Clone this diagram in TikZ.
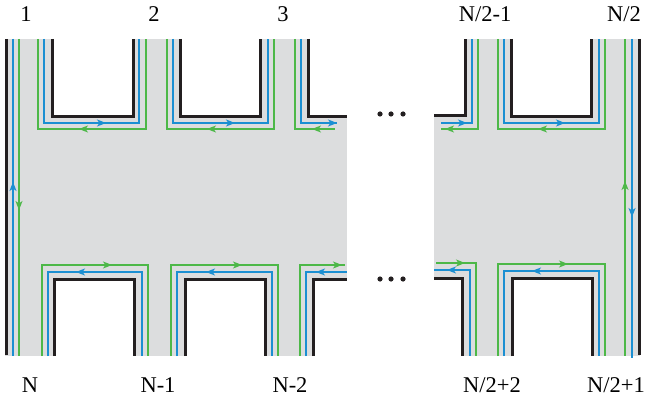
\documentclass[tikz,border=0pt]{standalone}
\usepackage{fontspec}
\setmainfont{Liberation Serif}
\usetikzlibrary{arrows.meta}
\definecolor{hbgray}{HTML}{DCDDDE}
\definecolor{hbblue}{HTML}{1B8FD2}
\definecolor{hbgreen}{HTML}{4DB848}
\definecolor{hbblack}{HTML}{231F20}
\begin{document}
\begin{tikzpicture}[x=1pt,y=-1pt,
  wall/.style={draw=hbblack,line width=3pt},
  bch/.style={draw=hbblue,line width=1.2pt},
  gch/.style={draw=hbgreen,line width=1.2pt},
  tipb/.style={bch,-{Stealth[length=9pt,width=7pt,inset=2.5pt]}},
  tipg/.style={gch,-{Stealth[length=9pt,width=7pt,inset=2.5pt]}},
  lbl/.style={font=\fontsize{22.5}{26}\selectfont,anchor=base,inner sep=0pt},
  dotc/.style={fill=hbblack}]
\useasboundingbox (0,0) rectangle (647,403);
% gray regions
\fill[hbgray] (5,39) rectangle (347,356);
\fill[hbgray] (434,39) rectangle (640,356);
% white blocks
\fill[white] (52,38) rectangle (133,117);
\fill[white] (180,38) rectangle (260,117);
\fill[white] (308,38) rectangle (348,117);
\fill[white] (433,38) rectangle (465,116);
\fill[white] (511,38) rectangle (591,117);
\fill[white] (54,279) rectangle (134,357);
\fill[white] (185,279) rectangle (265,357);
\fill[white] (313,279) rectangle (348,357);
\fill[white] (433,278) rectangle (462,357);
\fill[white] (512,278) rectangle (592,357);
% left edge channels
\draw[bch] (13,39) -- (13,356);
\draw[gch] (19,39) -- (19,356);
\draw[tipb] (13,191) -- (13,182);
\draw[tipg] (19,201) -- (19,210);
% right edge channels
\draw[gch] (625,39) -- (625,356);
\draw[bch] (632,39) -- (632,358);
\draw[tipg] (625,190) -- (625,181);
\draw[tipb] (632,208) -- (632,217);
% top block 1
\draw[bch] (44,39) -- (44,123) -- (139,123) -- (139,39);
\draw[gch] (38,39) -- (38,129) -- (146,129) -- (146,39);
\draw[tipb] (97,123) -- (106,123);
\draw[tipg] (88,129) -- (79,129);
% top block 2
\draw[bch] (173,39) -- (173,123) -- (268,123) -- (268,39);
\draw[gch] (167,39) -- (167,129) -- (274,129) -- (274,39);
\draw[tipb] (226,123) -- (235,123);
\draw[tipg] (216,129) -- (207,129);
% top block 3 (partial)
\draw[bch] (301,39) -- (301,123) -- (337,123);
\draw[gch] (295,39) -- (295,129) -- (335,129);
\draw[tipb] (328,123) -- (337,123);
\draw[tipg] (321,129) -- (312,129);
% right top partial
\draw[bch] (441,123) -- (472,123) -- (472,39);
\draw[gch] (441,129) -- (478,129) -- (478,39);
\draw[tipb] (458,123) -- (467,123);
\draw[tipg] (454,129) -- (445,129);
% top block N/2-1
\draw[bch] (504,39) -- (504,123) -- (599,123) -- (599,39);
\draw[gch] (498,39) -- (498,129) -- (605,129) -- (605,39);
\draw[tipb] (556,123) -- (565,123);
\draw[tipg] (547,129) -- (538,129);
% bottom block N
\draw[bch] (48,356) -- (48,272) -- (142,272) -- (142,356);
\draw[gch] (42,356) -- (42,265) -- (148,265) -- (148,356);
\draw[tipg] (103,265) -- (112,265);
\draw[tipb] (85,272) -- (76,272);
% bottom block N-1
\draw[bch] (177,356) -- (177,272) -- (272,272) -- (272,356);
\draw[gch] (171,356) -- (171,265) -- (278,265) -- (278,356);
\draw[tipg] (233,265) -- (242,265);
\draw[tipb] (215,272) -- (206,272);
% bottom block N-2 (partial)
\draw[bch] (306,356) -- (306,272) -- (347,272);
\draw[gch] (300,356) -- (300,265) -- (345,265);
\draw[tipg] (333,265) -- (342,265);
\draw[tipb] (325,272) -- (316,272);
% right bottom partial
\draw[bch] (434,270) -- (470,270) -- (470,356);
\draw[gch] (436,263) -- (476,263) -- (476,356);
\draw[tipg] (456,263) -- (465,263);
\draw[tipb] (456,270) -- (447,270);
% bottom block N/2+1
\draw[bch] (504,356) -- (504,271) -- (599,271) -- (599,356);
\draw[gch] (498,356) -- (498,264) -- (605,264) -- (605,356);
\draw[tipg] (559,264) -- (568,264);
\draw[tipb] (541,271) -- (532,271);
% black walls
\draw[wall] (6,39) -- (6,355);
\draw[wall] (639,39) -- (639,355);
\draw[wall] (52,39) -- (52,117) -- (133,117) -- (133,39);
\draw[wall] (180,39) -- (180,117) -- (260,117) -- (260,39);
\draw[wall] (308,39) -- (308,117) -- (347,117);
\draw[wall] (434,116) -- (465,116) -- (465,39);
\draw[wall] (511,39) -- (511,117) -- (591,117) -- (591,39);
\draw[wall] (54,356) -- (54,279) -- (134,279) -- (134,356);
\draw[wall] (185,356) -- (185,279) -- (265,279) -- (265,356);
\draw[wall] (313,356) -- (313,279) -- (347,279);
\draw[wall] (434,278) -- (462,278) -- (462,356);
\draw[wall] (512,356) -- (512,278) -- (592,278) -- (592,356);
% ellipses
\foreach \xx in {380,391,403} {
  \fill[dotc] (\xx,114) circle (2.6pt);
  \fill[dotc] (\xx,279) circle (2.6pt);
}
% labels
\node[lbl] (t1) at (26,22) {1};
\node[lbl] (t2) at (154,22) {2};
\node[lbl] (t3) at (283,22) {3};
\node[lbl] (t4) at (485,22) {N/2-1};
\node[lbl] (t5) at (624,22) {N/2};
\node[lbl] (b1) at (30,392) {N};
\node[lbl] (b2) at (158,392) {N-1};
\node[lbl] (b3) at (290,392) {N-2};
\node[lbl] (b4) at (492,392) {N/2+2};
\node[lbl] (b5) at (616,392) {N/2+1};
\end{tikzpicture}
\end{document}
